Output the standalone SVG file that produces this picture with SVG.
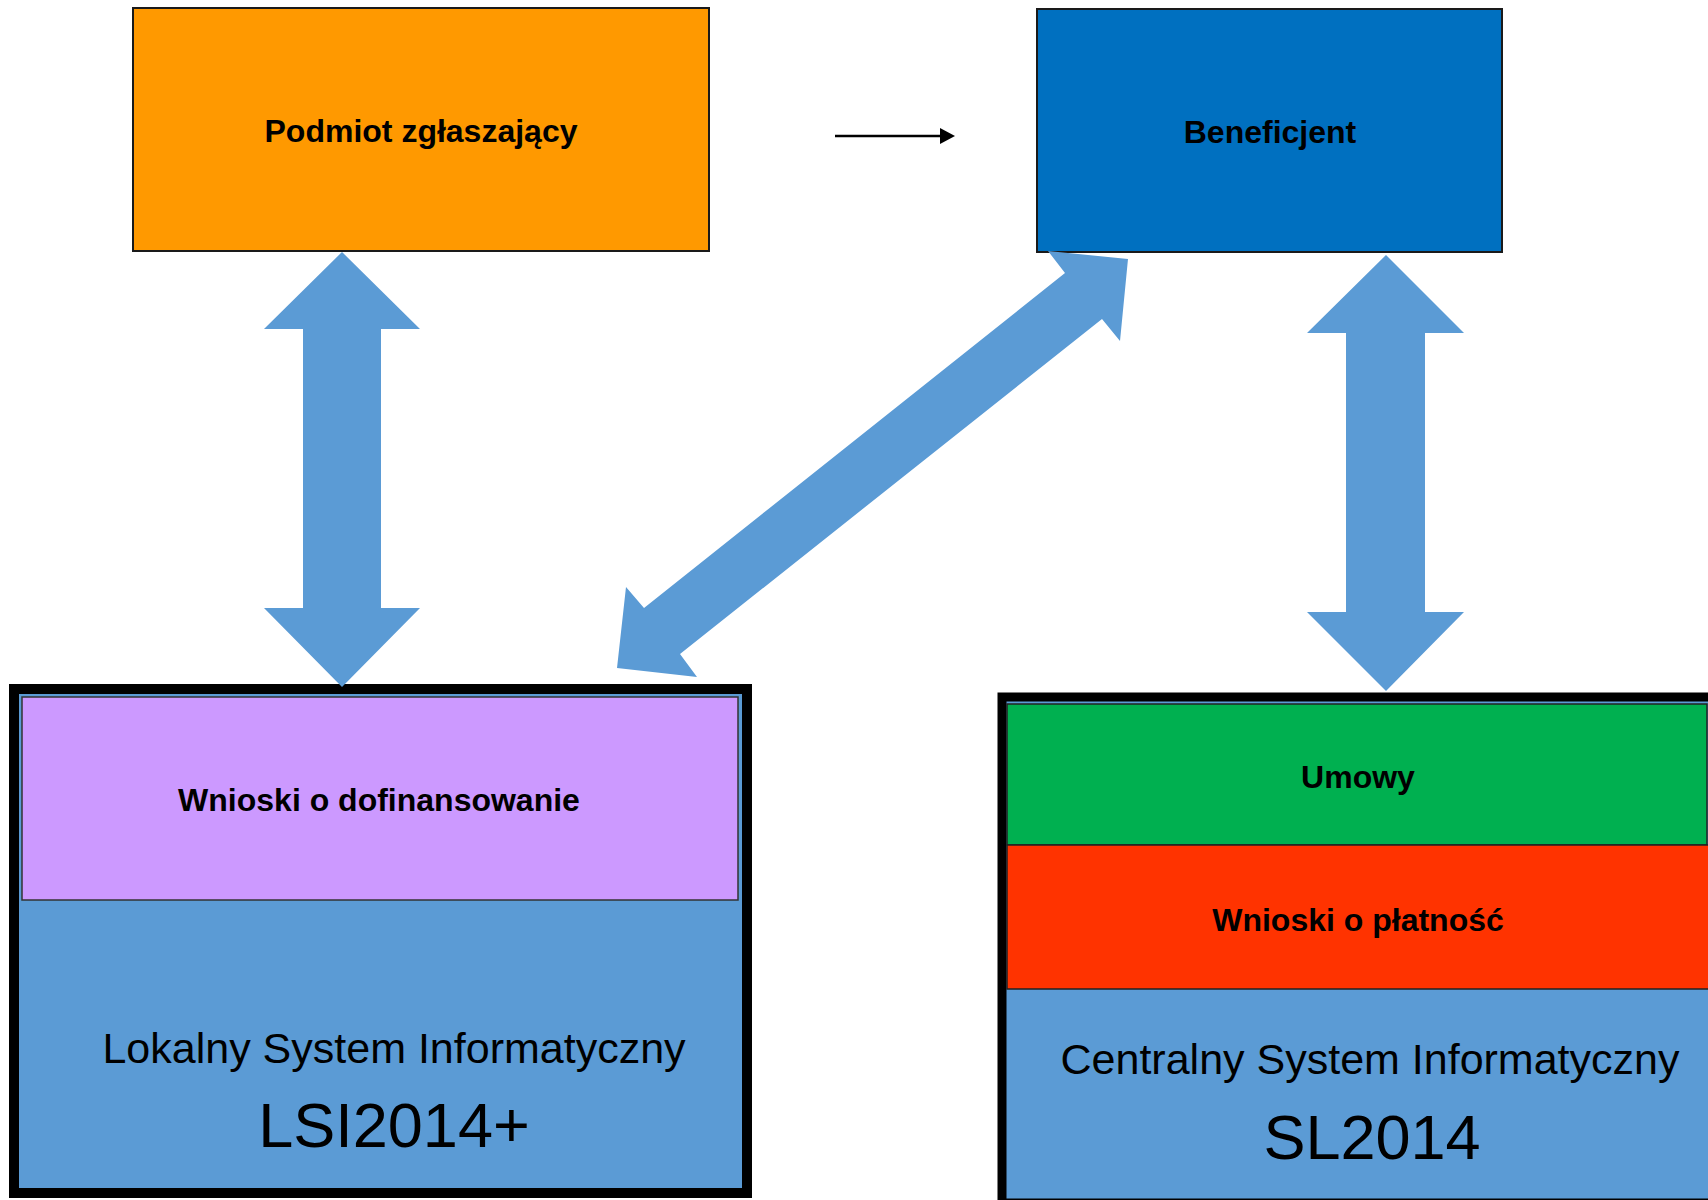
<svg xmlns="http://www.w3.org/2000/svg" width="1708" height="1200" viewBox="0 0 1708 1200">
<style>
.bl{font-family:"Liberation Sans",Arial,sans-serif;font-weight:bold;font-size:32px;fill:#000;text-anchor:middle}
.rg{font-family:"Liberation Sans",Arial,sans-serif;font-size:43px;fill:#000;text-anchor:middle}
.big{font-family:"Liberation Sans",Arial,sans-serif;font-size:63px;fill:#000;text-anchor:middle}
.box{stroke:#1a1a1a;stroke-width:2}
.arr{fill:#5B9BD5}
</style>
<rect width="1708" height="1200" fill="#fff"/>
<g id="podmiot">
<rect class="box" x="133" y="8" width="576" height="243" fill="#FF9900"/>
<text class="bl" x="421" y="142">Podmiot zgłaszający</text>
</g>
<g id="beneficjent">
<rect class="box" x="1037" y="9" width="465" height="243" fill="#0070C0"/>
<text class="bl" x="1270" y="143">Beneficjent</text>
</g>
<g id="lsi">
<rect x="14" y="689" width="733" height="504" fill="#5B9BD5" stroke="#000" stroke-width="10"/>
<rect x="22" y="697" width="716" height="203" fill="#CC99FF" stroke="#333" stroke-width="1.5"/>
<text class="bl" x="379" y="811">Wnioski o dofinansowanie</text>
<text class="rg" x="394" y="1063">Lokalny System Informatyczny</text>
<text class="big" x="394" y="1147">LSI2014+</text>
</g>
<g id="csi">
<rect x="1002" y="697" width="760" height="506" fill="#5B9BD5" stroke="#000" stroke-width="9"/>
<rect x="1007" y="704" width="700" height="141" fill="#00B050" stroke="#222" stroke-width="1.5"/>
<text class="bl" x="1358" y="788">Umowy</text>
<rect x="1007" y="845" width="710" height="144" fill="#FF3300" stroke="#222" stroke-width="1.5"/>
<text class="bl" x="1358" y="931">Wnioski o płatność</text>
<text class="rg" x="1370" y="1074">Centralny System Informatyczny</text>
<text class="big" x="1372" y="1159">SL2014</text>
</g>
<g id="connectors">
<line x1="835" y1="136" x2="942" y2="136" stroke="#000" stroke-width="2.5"/>
<polygon points="940,128 955,136 940,144" fill="#000"/>
<polygon class="arr" points="342,252 420,329 381,329 381,608 420,608 342,687 264,608 303,608 303,329 264,329"/>
<polygon class="arr" points="1386,255 1464,333 1425,333 1425,612 1464,612 1386,691 1307,612 1346,612 1346,333 1307,333"/>
<polygon class="arr" points="1128,259 1120,341 1102,319 680,654 697,677 617,668 626,587 644,608 1065,273 1048,251"/>
</g>
</svg>
